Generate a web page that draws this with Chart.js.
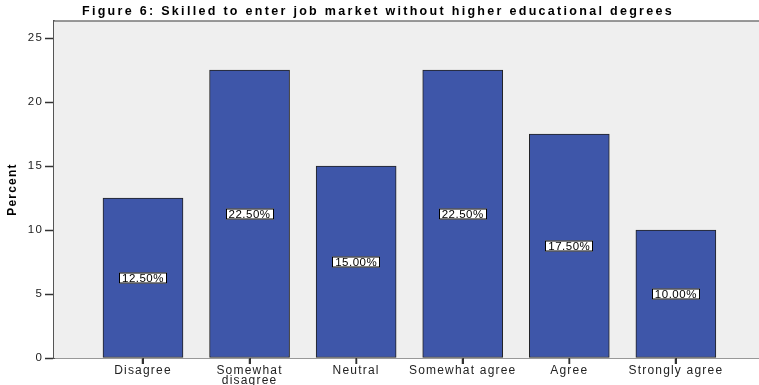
<!DOCTYPE html>
<html><head><meta charset="utf-8">
<script src="https://cdn.jsdelivr.net/npm/chart.js@4/dist/chart.umd.min.js"></script>
<style>html,body{margin:0;padding:0;background:#fff}#wrap{width:759px;height:385px}</style>
</head><body><div id="wrap"><canvas id="c" width="759" height="385"></canvas></div>
<script>
const titleText = 'Figure 6: Skilled to enter job market without higher educational degrees';
const categories = ['Disagree', ['Somewhat', 'disagree'], 'Neutral', 'Somewhat agree', 'Agree', 'Strongly agree'];
const percents = [12.5, 22.5, 15.0, 22.5, 17.5, 10.0];
const yTicks = [0, 5, 10, 15, 20, 25];

const data = percents.map((v, i) => ({x: i + 1, y: v}));
const FONT = '"Liberation Sans", Arial, sans-serif';

const spacingPlugin = {
  id: 'spacing',
  beforeInit(chart){ chart.ctx.letterSpacing = '1.2px'; },
  beforeDraw(chart){ chart.ctx.letterSpacing = '1.2px'; }
};
const bgPlugin = {
  id: 'bg',
  beforeDatasetsDraw(chart){
    const {ctx, chartArea: a} = chart;
    ctx.save();
    ctx.fillStyle = '#efefef';
    ctx.fillRect(a.left, a.top, a.right - a.left, a.bottom - a.top);
    ctx.strokeStyle = '#777';
    ctx.lineWidth = 1.5;
    ctx.beginPath();
    ctx.moveTo(a.left, a.top); ctx.lineTo(a.right, a.top);
    ctx.stroke();
    ctx.restore();
  },
  afterDraw(chart){
    const {ctx, chartArea: a} = chart;
    const xs = chart.scales.x;
    ctx.save();
    // x tick marks
    ctx.strokeStyle = '#333';
    ctx.lineWidth = 1.5;
    categories.forEach((c, i) => {
      const px = Math.round(xs.getPixelForValue(i + 1)) + 0.25;
      ctx.beginPath();
      ctx.moveTo(px, a.bottom);
      ctx.lineTo(px, a.bottom + 6);
      ctx.stroke();
    });
    // title
    ctx.letterSpacing = '2.3px';
    ctx.font = 'bold 12.5px ' + FONT;
    ctx.fillStyle = '#000';
    ctx.textAlign = 'center';
    ctx.textBaseline = 'middle';
    ctx.fillText(titleText, 378, 12);
    ctx.restore();
  }
};
const labelPlugin = {
  id: 'barLabels',
  afterDatasetsDraw(chart){
    const {ctx} = chart;
    const ys = chart.scales.y;
    const meta = chart.getDatasetMeta(0);
    ctx.save();
    ctx.letterSpacing = '0.5px';
    ctx.font = '11.5px ' + FONT;
    ctx.textAlign = 'center';
    ctx.textBaseline = 'middle';
    meta.data.forEach((bar, i) => {
      const v = percents[i];
      const txt = v.toFixed(2) + '%';
      const cy = Math.round(ys.getPixelForValue(v / 2));
      const w = 48, h = 11;
      const x0 = Math.round(bar.x - w / 2);
      ctx.fillStyle = '#fff';
      ctx.fillRect(x0, cy - h / 2, w, h);
      ctx.strokeStyle = '#000';
      ctx.lineWidth = 1;
      ctx.strokeRect(x0 + 0.5, cy - h / 2 + 0.5, w - 1, h - 1);
      ctx.fillStyle = '#000';
      ctx.fillText(txt, bar.x, cy + 0.5);
    });
    ctx.restore();
  }
};

new Chart(document.getElementById('c'), {
  type: 'bar',
  data: {
    datasets: [{
      data: data,
      backgroundColor: '#3e56a9',
      borderColor: '#222',
      borderWidth: 1,
      borderSkipped: false,
      barThickness: 80
    }]
  },
  plugins: [spacingPlugin, bgPlugin, labelPlugin],
  options: {
    responsive: false,
    animation: false,
    devicePixelRatio: 1,
    layout: {padding: {top: 21, left: 0, right: 0, bottom: 0}},
    plugins: {
      legend: {display: false},
      tooltip: {enabled: false},
      title: {display: false}
    },
    scales: {
      x: {
        type: 'linear',
        offset: false,
        min: 0.165,
        max: 6.78,
        afterBuildTicks(scale){ scale.ticks = categories.map((c, i) => ({value: i + 1})); },
        afterFit(scale){ scale.height = 27; },
        ticks: {
          autoSkip: false,
          maxRotation: 0,
          padding: 2,
          color: '#222',
          font: {family: FONT, size: 12, lineHeight: 0.82},
          callback: (v) => categories[Math.round(v) - 1]
        },
        grid: {offset: false, drawOnChartArea: false, tickLength: 6, tickColor: '#333', tickWidth: 1.5},
        border: {color: '#333', width: 1.5}
      },
      y: {
        min: 0,
        max: 26.33,
        afterBuildTicks(scale){ scale.ticks = yTicks.map(v => ({value: v})); },
        afterFit(scale){ scale.width = 54; },
        title: {
          display: true,
          text: 'Percent',
          color: '#000',
          font: {family: FONT, size: 12, weight: 'bold'},
          padding: {top: 5, bottom: 0}
        },
        ticks: {
          padding: 2,
          color: '#222',
          font: {family: FONT, size: 11.5}
        },
        grid: {drawOnChartArea: false, tickLength: 9, tickColor: '#333', tickWidth: 1.5},
        border: {color: '#555', width: 2}
      }
    }
  }
});
</script></body></html>
